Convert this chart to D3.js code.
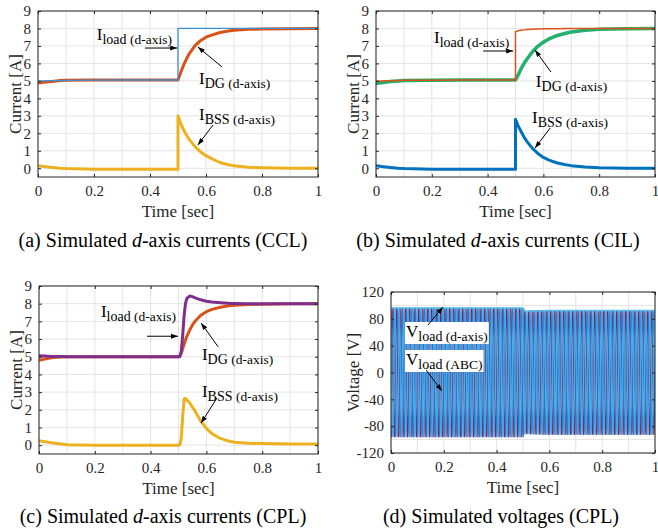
<!DOCTYPE html>
<html>
<head>
<meta charset="utf-8">
<script src="https://cdn.jsdelivr.net/npm/d3@7"></script>
<style>
  body { margin: 0; background: #fff; }
  svg, svg text { font-family: "Liberation Serif", "Times New Roman", serif; }
</style>
</head>
<body>
<svg id="fig" width="658" height="532"></svg>
<script>
// ---- data ----
// panels (a) and (b): sample times [sec]
const timeAB = [0, 0.02, 0.05, 0.08, 0.1, 0.2, 0.3, 0.4, 0.5, 0.5, 0.51, 0.52, 0.53, 0.54,
  0.56, 0.58, 0.6, 0.62, 0.65, 0.68, 0.7, 0.75, 0.8, 0.9, 1.0];

// (a) CCL
const iLoadA = [5.0, 5.0, 5.01, 5.02, 5.03, 5.04, 5.05, 5.05, 5.05, 8.0, 8.0, 8.0, 8.0, 8.0,
  8.0, 8.0, 8.0, 8.0, 8.0, 8.0, 8.0, 8.0, 8.0, 8.0, 8.0];
const iDgA = [4.88, 4.92, 4.97, 5.02, 5.04, 5.05, 5.05, 5.05, 5.05, 5.05, 5.5, 5.9, 6.25, 6.55,
  7.0, 7.3, 7.5, 7.62, 7.77, 7.86, 7.9, 7.95, 7.97, 7.99, 8.0];
const iBssA = [0.15, 0.1, 0.05, 0.0, -0.02, -0.05, -0.05, -0.05, -0.05, 3.0, 2.55, 2.2, 1.9, 1.65,
  1.25, 0.95, 0.72, 0.55, 0.33, 0.2, 0.14, 0.06, 0.03, 0.0, 0.0];

// (b) CIL
const iLoadB = [5.0, 5.0, 5.01, 5.02, 5.03, 5.04, 5.05, 5.05, 5.05, 7.82, 7.87, 7.9, 7.92, 7.94,
  7.96, 7.97, 7.98, 7.99, 7.99, 8.0, 8.0, 8.0, 8.0, 8.0, 8.0];
const iDgB = [4.85, 4.9, 4.96, 5.0, 5.02, 5.04, 5.05, 5.05, 5.05, 5.05, 5.35, 5.7, 5.98, 6.22,
  6.65, 6.98, 7.22, 7.4, 7.6, 7.73, 7.8, 7.9, 7.95, 7.99, 8.0];
const iBssB = [0.15, 0.1, 0.05, 0.0, -0.02, -0.05, -0.05, -0.05, -0.05, 2.8, 2.4, 2.1, 1.8, 1.55,
  1.15, 0.85, 0.62, 0.47, 0.3, 0.2, 0.15, 0.07, 0.03, 0.0, 0.0];

// (c) CPL
const timeC = [0, 0.02, 0.05, 0.08, 0.1, 0.2, 0.3, 0.4, 0.5, 0.505, 0.51, 0.515, 0.52, 0.525,
  0.53, 0.54, 0.55, 0.56, 0.58, 0.6, 0.62, 0.65, 0.68, 0.7, 0.75, 0.8, 0.9, 1.0];
const iLoadC = [5.05, 5.04, 5.02, 5.01, 5.0, 5.0, 5.0, 5.0, 5.0, 5.0, 5.3, 6.2, 7.3, 8.0,
  8.3, 8.43, 8.4, 8.33, 8.22, 8.14, 8.09, 8.05, 8.02, 8.01, 8.0, 8.0, 8.0, 8.0];
const iDgC = [4.8, 4.87, 4.95, 4.99, 5.0, 5.0, 5.0, 5.0, 5.0, 5.05, 5.2, 5.45, 5.7, 5.95,
  6.15, 6.5, 6.8, 7.02, 7.35, 7.55, 7.68, 7.8, 7.88, 7.91, 7.95, 7.97, 7.99, 8.0];
const iBssC = [0.25, 0.2, 0.12, 0.06, 0.03, 0.0, 0.0, 0.0, 0.0, 0.02, 0.4, 1.6, 2.6, 2.65,
  2.55, 2.4, 2.15, 1.9, 1.35, 0.95, 0.65, 0.38, 0.23, 0.17, 0.11, 0.09, 0.07, 0.06];

// (d) load voltage: d-axis magnitude (= ABC peak) and grid frequency
const timeD = [0, 0.5, 0.505, 0.51, 0.52, 0.55, 0.6, 0.8, 1.0];
const vLoadD = [96, 96, 93, 91, 91.5, 92, 92.5, 92.5, 92.5];
const gridHz = 60;

const xTicks = [0, 0.2, 0.4, 0.6, 0.8, 1];
const xGrid = d3.range(0, 11).map((d) => d / 10);
const yTicksI = d3.range(0, 10);
const yTicksV = [-120, -80, -40, 0, 40, 80, 120];
const yGridV = d3.range(-120, 121, 20);

const blue = "#0072bd", orange = "#d95319", yellow = "#edb120",
  purple = "#7e2f8e", green = "#22b06c", lightBlue = "#4dbeee";

const FONT = "'Liberation Serif', 'Times New Roman', serif";

// ---- three-phase waveform built from the read envelope ----
const envD = d3.scaleLinear().domain(timeD).range(vLoadD);
const tWave = d3.range(0, 1.0001, 0.0002);
const phaseColours = ["#b3123b", "#1583d8", "#3aa8ee"];
const abcSeries = phaseColours.map((c, k) => ({
  t: tWave,
  v: tWave.map((t) => envD(t) * Math.sin(2 * Math.PI * gridHz * t - (k * 2 * Math.PI) / 3)),
  colour: c,
  width: 1.1,
}));

// ---- panel layout ----
const panels = [
  {
    id: "a", left: 38, right: 318, top: 11, bottom: 177, yDomain: [-0.5, 9],
    yTicks: yTicksI, yGrid: yTicksI, yTitle: "Current [A]",
    caption: ["(a) Simulated ", "d", "-axis currents (CCL)"], captionX: 163, captionY: 247,
    series: [
      { t: timeAB, v: iBssA, colour: yellow, width: 3 },
      { t: timeAB, v: iDgA, colour: orange, width: 3 },
      { t: timeAB, v: iLoadA, colour: "#3d8fd6", width: 1.3 },
    ],
    notes: [
      { sym: "I", sub: "load", tag: "(d-axis)", at: [0.21, 7.34], arrow: [0.382, 6.88, 0.497, 6.88] },
      { sym: "I", sub: "DG", tag: "(d-axis)", at: [0.575, 4.82], arrow: [0.657, 5.8, 0.571, 6.94] },
      { sym: "I", sub: "BSS", tag: "(d-axis)", at: [0.575, 2.76], arrow: [0.625, 2.48, 0.571, 1.33] },
    ],
  },
  {
    id: "b", left: 376, right: 655, top: 11, bottom: 177, yDomain: [-0.5, 9],
    yTicks: yTicksI, yGrid: yTicksI, yTitle: "Current [A]",
    caption: ["(b) Simulated ", "d", "-axis currents (CIL)"], captionX: 498, captionY: 247,
    series: [
      { t: timeAB, v: iBssB, colour: blue, width: 3 },
      { t: timeAB, v: iDgB, colour: green, width: 3.5 },
      { t: timeAB, v: iLoadB, colour: orange, width: 1.5 },
    ],
    notes: [
      { sym: "I", sub: "load", tag: "(d-axis)", at: [0.208, 7.17], arrow: [0.384, 6.71, 0.492, 6.71] },
      { sym: "I", sub: "DG", tag: "(d-axis)", at: [0.573, 4.65], arrow: [0.627, 5.51, 0.57, 6.77] },
      { sym: "I", sub: "BSS", tag: "(d-axis)", at: [0.559, 2.59], arrow: [0.624, 2.3, 0.57, 1.16] },
    ],
  },
  {
    id: "c", left: 39, right: 318, top: 286, bottom: 454, yDomain: [-0.5, 9],
    yTicks: yTicksI, yGrid: yTicksI, yTitle: "Current [A]",
    caption: ["(c) Simulated ", "d", "-axis currents (CPL)"], captionX: 163, captionY: 523,
    series: [
      { t: timeC, v: iBssC, colour: yellow, width: 3 },
      { t: timeC, v: iDgC, colour: orange, width: 3 },
      { t: timeC, v: iLoadC, colour: purple, width: 3 },
    ],
    notes: [
      { sym: "I", sub: "load", tag: "(d-axis)", at: [0.222, 7.25], arrow: [0.387, 6.16, 0.498, 6.16] },
      { sym: "I", sub: "DG", tag: "(d-axis)", at: [0.584, 4.82], arrow: [0.642, 5.56, 0.581, 6.91] },
      { sym: "I", sub: "BSS", tag: "(d-axis)", at: [0.584, 2.73], arrow: [0.638, 2.67, 0.581, 1.25] },
    ],
  },
  {
    id: "d", left: 391, right: 655, top: 292, bottom: 453, yDomain: [-120, 120],
    yTicks: yTicksV, yGrid: yGridV, yTitle: "Voltage [V]",
    caption: ["(d) Simulated voltages (CPL)"], captionX: 501, captionY: 523,
    series: [
      ...abcSeries,
      { t: timeD, v: vLoadD, colour: lightBlue, width: 1.5 },
    ],
    notes: [
      { sym: "V", sub: "load", tag: "(d-axis)", at: [0.057, 52.9], arrow: [0.14, 70.8, 0.197, 97.6], boxed: true },
      { sym: "V", sub: "load", tag: "(ABC)", at: [0.057, 11.2], arrow: [0.133, 3.7, 0.193, -27.6], boxed: true },
    ],
  },
];

// ---- drawing ----
const svg = d3.select("#fig");
const defs = svg.append("defs");
defs.append("marker")
  .attr("id", "head")
  .attr("viewBox", "0 0 10 10")
  .attr("refX", 10).attr("refY", 5)
  .attr("markerWidth", 7).attr("markerHeight", 7)
  .attr("markerUnits", "userSpaceOnUse")
  .attr("orient", "auto")
  .append("path").attr("d", "M0,1.5 L10,5 L0,8.5 Z").attr("fill", "#000");

const fmt = (d) => String(d);

const drawPanel = (parent, p) => {
  const x = d3.scaleLinear().domain([0, 1]).range([p.left, p.right]);
  const y = d3.scaleLinear().domain(p.yDomain).range([p.bottom, p.top]);
  const g = parent.append("g").attr("class", "panel-" + p.id);

  defs.append("clipPath").attr("id", "clip-" + p.id)
    .append("rect")
    .attr("x", p.left).attr("y", p.top)
    .attr("width", p.right - p.left).attr("height", p.bottom - p.top);

  // grid
  const grid = g.append("g").attr("stroke", "#e4e4e4").attr("stroke-width", 1);
  grid.selectAll(".gx").data(xGrid).join("line")
    .attr("x1", (d) => x(d)).attr("x2", (d) => x(d))
    .attr("y1", p.top).attr("y2", p.bottom);
  grid.selectAll(".gy").data(p.yGrid).join("line")
    .attr("x1", p.left).attr("x2", p.right)
    .attr("y1", (d) => y(d)).attr("y2", (d) => y(d));

  // series
  const plot = g.append("g").attr("clip-path", `url(#clip-${p.id})`);
  p.series.forEach((s) => {
    const line = d3.line().x((d, i) => x(s.t[i])).y((d) => y(d));
    plot.append("path")
      .datum(s.v)
      .attr("d", line)
      .attr("fill", "none")
      .attr("stroke", s.colour)
      .attr("stroke-width", s.width)
      .attr("stroke-linejoin", "round");
  });

  // axes (inward ticks, box around)
  const styleAxis = (sel) => {
    sel.attr("font-family", FONT).attr("font-size", 15);
    sel.select(".domain").remove();
    sel.selectAll(".tick line").attr("stroke", "#262626");
    sel.selectAll(".tick text").attr("fill", "#262626");
  };
  g.append("g").attr("transform", `translate(0,${p.bottom})`)
    .call(d3.axisBottom(x).tickValues(xTicks).tickFormat(fmt).tickSizeInner(-3).tickSizeOuter(0).tickPadding(8))
    .call(styleAxis);
  g.append("g").attr("transform", `translate(0,${p.top})`)
    .call(d3.axisTop(x).tickValues(xTicks).tickFormat("").tickSizeInner(-3).tickSizeOuter(0))
    .call(styleAxis);
  g.append("g").attr("transform", `translate(${p.left},0)`)
    .call(d3.axisLeft(y).tickValues(p.yTicks).tickFormat(fmt).tickSizeInner(-3).tickSizeOuter(0).tickPadding(7))
    .call(styleAxis);
  g.append("g").attr("transform", `translate(${p.right},0)`)
    .call(d3.axisRight(y).tickValues(p.yTicks).tickFormat("").tickSizeInner(-3).tickSizeOuter(0))
    .call(styleAxis);
  g.append("rect")
    .attr("x", p.left).attr("y", p.top)
    .attr("width", p.right - p.left).attr("height", p.bottom - p.top)
    .attr("fill", "none").attr("stroke", "#262626").attr("stroke-width", 1);

  // axis titles
  g.append("text")
    .attr("x", (p.left + p.right) / 2).attr("y", p.bottom + 40)
    .attr("text-anchor", "middle").attr("font-family", FONT).attr("font-size", 17).attr("fill", "#262626")
    .text("Time [sec]");
  g.append("text")
    .attr("transform", `translate(${p.left - (p.id === "d" ? 32 : 17)},${(p.top + p.bottom) / 2}) rotate(-90)`)
    .attr("text-anchor", "middle").attr("font-family", FONT).attr("font-size", 17).attr("fill", "#262626")
    .text(p.yTitle);

  // annotations
  p.notes.forEach((n) => {
    const t = g.append("text")
      .attr("x", x(n.at[0])).attr("y", y(n.at[1]))
      .attr("font-family", FONT)
      .attr("fill", "#000");
    t.append("tspan").attr("font-size", 17).text(n.sym);
    t.append("tspan").attr("font-size", 14).attr("dy", 4).text(n.sub);
    t.append("tspan").attr("font-size", 13.5).text("\u00a0" + n.tag);
    if (n.boxed) {
      const bb = t.node().getBBox();
      g.insert("rect", function () { return t.node(); })
        .attr("x", bb.x - 1).attr("y", bb.y)
        .attr("width", bb.width + 2).attr("height", bb.height)
        .attr("fill", "#fff");
    }
    g.append("line")
      .attr("x1", x(n.arrow[0])).attr("y1", y(n.arrow[1]))
      .attr("x2", x(n.arrow[2])).attr("y2", y(n.arrow[3]))
      .attr("stroke", "#000").attr("stroke-width", 1)
      .attr("marker-end", "url(#head)");
  });

  // caption
  const cap = parent.append("text")
    .attr("x", p.captionX).attr("y", p.captionY)
    .attr("text-anchor", "middle").attr("font-family", FONT).attr("font-size", 20).attr("fill", "#000");
  p.caption.forEach((part, i) => {
    cap.append("tspan")
      .attr("font-style", i === 1 ? "italic" : "normal")
      .text(part);
  });
};

panels.forEach((p) => drawPanel(svg, p));
</script>
</body>
</html>
